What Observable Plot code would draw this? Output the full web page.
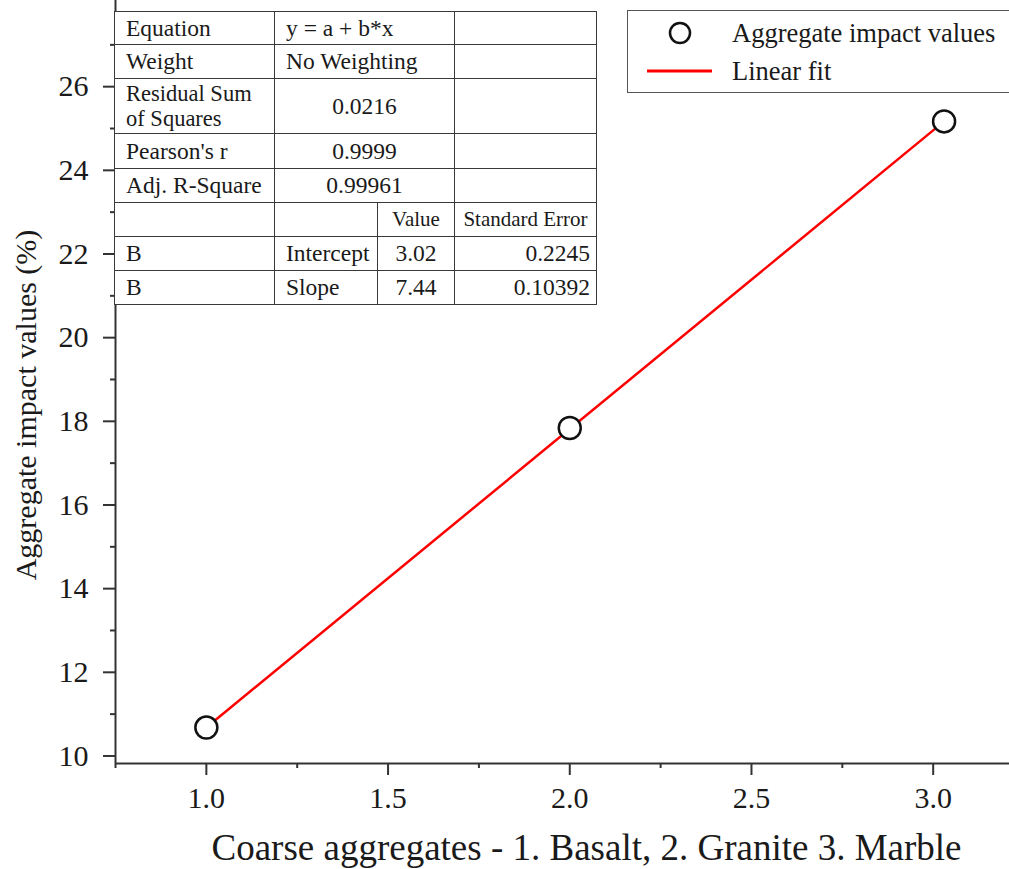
<!DOCTYPE html>
<html>
<head>
<meta charset="utf-8">
<script src="https://cdn.jsdelivr.net/npm/d3@7"></script>
<script src="https://cdn.jsdelivr.net/npm/@observablehq/plot@0.6"></script>
<style>
  html, body { margin: 0; padding: 0; background: #fff; }
  #wrap { position: relative; width: 1009px; height: 869px; overflow: hidden; font-family: "Liberation Serif", "Times New Roman", serif; color: #1a1a1a; }
  #stats { position: absolute; left: 114px; top: 11px; border-collapse: collapse; table-layout: fixed; background: #fff; font-size: 23.5px; }
  #stats td { border: 1.5px solid #3a3a3a; padding: 0 0 0 11px; white-space: nowrap; vertical-align: middle; line-height: 23px; overflow: hidden; }
  #stats td div.two { display: block; height: 25px; line-height: 25px; font-size: 22.5px; }
  #stats td.c { text-align: center; padding: 0; }
  #stats td.r { text-align: right; padding: 0 6px 0 0; }
  #stats td.h { font-size: 21px; }
  #legend { position: absolute; left: 627px; top: 10px; width: 385px; height: 81px; border: 1.5px solid #555; background: #fff; }
  #legend svg { position: absolute; left: 0; top: 0; }
</style>
</head>
<body>
<div id="wrap"></div>
<script>
// ---- data ----
const categories = ["Basalt", "Granite", "Marble"];
const xValues = [1.0, 2.0, 3.03];
const impactValues = [10.68, 17.84, 25.17];
const fitX = [1.0, 3.03];
const fitY = [10.68, 25.17];
const xTicks = [1.0, 1.5, 2.0, 2.5, 3.0];
const xMinorTicks = [0.75, 1.25, 1.75, 2.25, 2.75];
const yTicks = [10, 12, 14, 16, 18, 20, 22, 24, 26];
const yMinorTicks = [11, 13, 15, 17, 19, 21, 23, 25, 27];
const xLabel = "Coarse aggregates - 1. Basalt, 2. Granite 3. Marble";
const yLabel = "Aggregate impact values (%)";
const legendLabels = ["Aggregate impact values", "Linear fit"];
const statsRows = [
  [["Equation"], "y = a + b*x", ""],
  [["Weight"], "No Weighting", ""],
  [["Residual Sum", "of Squares"], "0.0216", ""],
  [["Pearson's r"], "0.9999", ""],
  [["Adj. R-Square"], "0.99961", ""]
];
const paramHeader = ["", "", "Value", "Standard Error"];
const paramRows = [
  ["B", "Intercept", "3.02", "0.2245"],
  ["B", "Slope", "7.44", "0.10392"]
];

const points = categories.map((c, i) => ({c, x: xValues[i], y: impactValues[i]}));
const fit = fitX.map((x, i) => ({x, y: fitY[i]}));

const axisColor = "#333";
const chart = Plot.plot({
  width: 1009,
  height: 869,
  marginLeft: 115,
  marginRight: 0,
  marginTop: 0,
  marginBottom: 106,
  x: {domain: [0.75, 3.21], label: null},
  y: {domain: [9.82, 28.06], label: null},
  style: {fontFamily: "'Liberation Serif', 'Times New Roman', serif", color: "#1a1a1a", background: "white", overflow: "visible"},
  marks: [
    Plot.ruleY([9.82], {stroke: axisColor, strokeWidth: 2}),
    Plot.ruleX([0.75], {stroke: axisColor, strokeWidth: 2}),
    Plot.axisX({ticks: xTicks, tickSize: 12, tickPadding: 11, tickFormat: d3.format(".1f"), fontSize: 30, stroke: axisColor, strokeWidth: 2, label: null}),
    Plot.axisX({ticks: xMinorTicks, tickSize: 5, tickFormat: () => "", stroke: axisColor, strokeWidth: 2, label: null}),
    Plot.axisY({ticks: yTicks, tickSize: 12, tickPadding: 15, tickFormat: d3.format("d"), fontSize: 30, stroke: axisColor, strokeWidth: 2, label: null}),
    Plot.axisY({ticks: yMinorTicks, tickSize: 5, tickFormat: () => "", stroke: axisColor, strokeWidth: 2, label: null}),
    Plot.line(fit, {x: "x", y: "y", stroke: "#f00", strokeWidth: 2.5}),
    Plot.dot(points, {x: "x", y: "y", r: 11, stroke: "#111", strokeWidth: 2.5, fill: "white"}),
    Plot.text([xLabel], {text: d => d, frameAnchor: "bottom", textAnchor: "middle", dx: 24, dy: 85, fontSize: 37, lineAnchor: "middle", fill: "#1a1a1a"}),
    Plot.text([yLabel], {text: d => d, frameAnchor: "left", textAnchor: "middle", dx: -89, dy: 23, rotate: -90, fontSize: 30, lineAnchor: "middle", fill: "#1a1a1a"})
  ]
});

const wrap = document.getElementById("wrap");
wrap.appendChild(chart);

// ---- stats table ----
const rowHeights = [33, 34, 55, 35, 34, 34, 34, 34];
let html = '<colgroup><col style="width:160px"><col style="width:103px"><col style="width:77px"><col style="width:142px"></colgroup>';
statsRows.forEach((r, i) => {
  const cls = i < 2 ? "" : ' class="c"';
  const first = r[0].length > 1 ? r[0].map(t => `<div class="two">${t}</div>`).join("") : r[0][0];
  html += `<tr style="height:${rowHeights[i]}px"><td>${first}</td><td colspan="2"${cls}>${r[1]}</td><td>${r[2]}</td></tr>`;
});
html += `<tr style="height:${rowHeights[5]}px"><td>${paramHeader[0]}</td><td>${paramHeader[1]}</td><td class="c h">${paramHeader[2]}</td><td class="c h">${paramHeader[3]}</td></tr>`;
paramRows.forEach((r, i) => {
  html += `<tr style="height:${rowHeights[6 + i]}px"><td>${r[0]}</td><td>${r[1]}</td><td class="c">${r[2]}</td><td class="r">${r[3]}</td></tr>`;
});
const table = document.createElement("table");
table.id = "stats";
table.innerHTML = html;
wrap.appendChild(table);

// ---- legend ----
const legend = document.createElement("div");
legend.id = "legend";
legend.innerHTML = `<svg width="385" height="81" font-family="'Liberation Serif','Times New Roman',serif">
  <circle cx="52" cy="22" r="10" fill="white" stroke="#111" stroke-width="2.5"></circle>
  <text x="104" y="31" font-size="26.5" fill="#1a1a1a">${legendLabels[0]}</text>
  <line x1="19" x2="84" y1="60" y2="60" stroke="#f00" stroke-width="3"></line>
  <text x="104" y="69" font-size="26.5" fill="#1a1a1a">${legendLabels[1]}</text>
</svg>`;
wrap.appendChild(legend);
</script>
</body>
</html>
